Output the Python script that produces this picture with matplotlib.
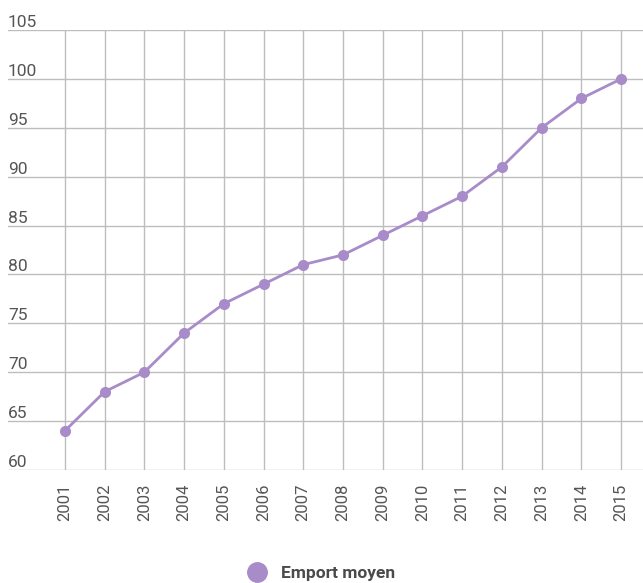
import matplotlib.pyplot as plt
from matplotlib.lines import Line2D

plt.rcParams['font.family'] = ['Roboto', 'DejaVu Sans']

annees = [str(a) for a in range(2001, 2016)]
emport_moyen = [64, 68, 70, 74, 77, 79, 81, 82, 84, 86, 88, 91, 95, 98, 100]
y_ticks = [60, 65, 70, 75, 80, 85, 90, 95, 100, 105]

violet = "#a88bc9"
gris_texte = "#555555"

fig = plt.figure(figsize=(6.43, 5.83), dpi=100)
ax = fig.add_axes([8 / 643, 1 - 470 / 583, 635 / 643, 440 / 583])

x = list(range(len(annees)))
ax.plot(x, emport_moyen, color=violet, linewidth=2, marker='o', markersize=8,
        markeredgewidth=0, zorder=3)

ax.set_ylim(60, 105)
ax.set_xlim(-1.43, 14.55)
ax.set_yticks(y_ticks)
ax.set_xticks(x)
ax.set_xticklabels(annees, rotation=90, fontsize=12, color=gris_texte)
ax.tick_params(axis='x', length=0, pad=10)
ax.tick_params(axis='y', length=0, labelleft=False)

# y labels above their gridlines
for v in y_ticks:
    ax.text(0, v, str(v), transform=ax.get_yaxis_transform(), fontsize=12.5,
            color=gris_texte, ha='left', va='bottom')

ax.grid(True, color="#bdbdbd", linewidth=1)
ax.set_axisbelow(True)
for s in ax.spines.values():
    s.set_visible(False)

poignee = Line2D([], [], color=violet, marker='o', linestyle='', markersize=14)
fig.legend([poignee], ["Emport moyen"], loc='center', bbox_to_anchor=(0.494, 1 - 573 / 583),
           frameon=False, prop={'weight': 'bold', 'size': 12.5}, labelcolor="#4a4a4a",
           handletextpad=0.4)

plt.savefig("out.png", dpi=100)
